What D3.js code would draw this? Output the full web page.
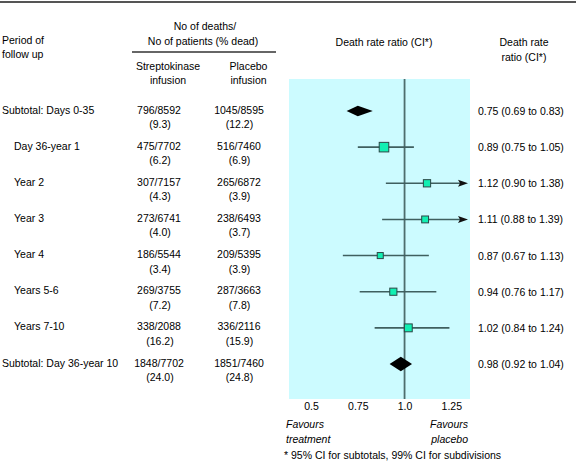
<!DOCTYPE html>
<html><head><meta charset="utf-8">
<script src="https://cdn.jsdelivr.net/npm/d3@7"></script>
<style>
body{margin:0;background:#fff;}
text{font-family:"Liberation Sans",Arial,sans-serif;font-size:10.5px;fill:#000;}
</style></head>
<body><svg id="c" width="576" height="468"></svg>
<script>
const periods = ["Subtotal: Days 0-35","Day 36-year 1","Year 2","Year 3","Year 4","Years 5-6","Years 7-10","Subtotal: Day 36-year 10"];
const isSubtotal = [true,false,false,false,false,false,false,true];
const strepDeaths = [796,475,307,273,186,269,338,1848];
const strepPatients = [8592,7702,7157,6741,5544,3755,2088,7702];
const strepPct = ["9.3","6.2","4.3","4.0","3.4","7.2","16.2","24.0"];
const placeboDeaths = [1045,516,265,238,209,287,336,1851];
const placeboPatients = [8595,7460,6872,6493,5395,3663,2116,7460];
const placeboPct = ["12.2","6.9","3.9","3.7","3.9","7.8","15.9","24.8"];
const ratio = [0.75,0.89,1.12,1.11,0.87,0.94,1.02,0.98];
const ciLow = [0.69,0.75,0.90,0.88,0.67,0.76,0.84,0.92];
const ciHigh = [0.83,1.05,1.38,1.39,1.13,1.17,1.24,1.04];
const tickValues = [0.5,0.75,1.0,1.25];
const tickLabels = ["0.5","0.75","1.0","1.25"];

const svg = d3.select("#c");
const x = d3.scaleLinear().domain([0.382,1.35]).range([289,470]);
const y = d3.scalePoint().domain(periods).range([111,364]);
const sq = d3.scaleSqrt().domain([0,1000]).range([0,9.6]);
const dh = d3.scaleSqrt().domain([0,1841]).range([0,5.2]);
const lineCol = "#3f5f5f";

// top rule
svg.append("line").attr("x1",0).attr("x2",576).attr("y1",2).attr("y2",2).attr("stroke","#555").attr("stroke-width",2);

// headers
const hdr = (t,xx,yy,anchor="middle")=>svg.append("text").attr("x",xx).attr("y",yy).attr("text-anchor",anchor).attr("dominant-baseline","central").text(t);
hdr("Period of",2,39.5,"start");
hdr("follow up",2,53.5,"start");
hdr("No of deaths/",205,26);
hdr("No of patients (% dead)",203,41);
svg.append("line").attr("x1",132).attr("x2",276).attr("y1",52).attr("y2",52).attr("stroke","#333").attr("stroke-width",1.5);
hdr("Streptokinase",168,66);
hdr("infusion",168,80);
hdr("Placebo",248.5,66);
hdr("infusion",248.5,80);
hdr("Death rate ratio (CI*)",384,42);
hdr("Death rate",524,42);
hdr("ratio (CI*)",524,57);

// plot background
svg.append("rect").attr("x",x.range()[0]).attr("y",79).attr("width",x.range()[1]-x.range()[0]).attr("height",320).attr("fill","#ccfbff");
svg.append("line").attr("x1",x(1)).attr("x2",x(1)).attr("y1",79).attr("y2",399).attr("stroke","#4e6d6d").attr("stroke-width",1.8);

// axis
const axis = d3.axisBottom(x).tickValues(tickValues).tickFormat((d,i)=>tickLabels[i]).tickSize(0).tickPadding(0);
const ax = svg.append("g").attr("transform","translate(0,403)").call(axis);
ax.select(".domain").remove();
ax.selectAll("text").attr("font-size","10.5px").attr("font-family","Liberation Sans, Arial, sans-serif").attr("fill","#000");
svg.append("text").attr("x",286).attr("y",424).attr("dominant-baseline","central").attr("font-style","italic").text("Favours");
svg.append("text").attr("x",286).attr("y",438.5).attr("dominant-baseline","central").attr("font-style","italic").text("treatment");
svg.append("text").attr("x",468).attr("y",424).attr("text-anchor","end").attr("dominant-baseline","central").attr("font-style","italic").text("Favours");
svg.append("text").attr("x",468).attr("y",438.5).attr("text-anchor","end").attr("dominant-baseline","central").attr("font-style","italic").text("placebo");
svg.append("text").attr("x",284).attr("y",455).attr("dominant-baseline","central").text("* 95% CI for subtotals, 99% CI for subdivisions");

// rows
const idx = d3.range(periods.length);
const rows = svg.selectAll("g.row").data(idx).join("g").attr("class","row");
rows.append("text").attr("x",i=>isSubtotal[i]?2:14).attr("y",i=>y(periods[i])-1.5).attr("dominant-baseline","central").text(i=>periods[i]);
rows.append("text").attr("x",159).attr("y",i=>y(periods[i])-1.5).attr("text-anchor","middle").attr("dominant-baseline","central").text(i=>strepDeaths[i]+"/"+strepPatients[i]);
rows.append("text").attr("x",160).attr("y",i=>y(periods[i])+13).attr("text-anchor","middle").attr("dominant-baseline","central").text(i=>"("+strepPct[i]+")");
rows.append("text").attr("x",239).attr("y",i=>y(periods[i])-1.5).attr("text-anchor","middle").attr("dominant-baseline","central").text(i=>placeboDeaths[i]+"/"+placeboPatients[i]);
rows.append("text").attr("x",239.5).attr("y",i=>y(periods[i])+13).attr("text-anchor","middle").attr("dominant-baseline","central").text(i=>"("+placeboPct[i]+")");
rows.append("text").attr("x",478).attr("y",i=>y(periods[i])).attr("dominant-baseline","central")
  .text(i=>d3.format(".2f")(ratio[i])+" ("+d3.format(".2f")(ciLow[i])+" to "+d3.format(".2f")(ciHigh[i])+")");

const xMax = x.domain()[1];
const arrowTip = x.range()[1]-2;
// CI lines for subdivisions
idx.filter(i=>!isSubtotal[i]).forEach(i=>{
  const yy = y(periods[i]);
  const over = ciHigh[i] > xMax;
  const x2 = over ? arrowTip-8 : x(ciHigh[i]);
  svg.append("line").attr("x1",x(ciLow[i])).attr("x2",x2).attr("y1",yy).attr("y2",yy).attr("stroke",lineCol).attr("stroke-width",1.6);
  if(over){
    svg.append("path").attr("d",`M${arrowTip-10},${yy-3.5}L${arrowTip},${yy}L${arrowTip-10},${yy+3.5}L${arrowTip-8},${yy}Z`).attr("fill","#111");
  }
  const s = sq(strepDeaths[i]+placeboDeaths[i]);
  svg.append("rect").attr("x",x(ratio[i])-s/2).attr("y",yy-s/2).attr("width",s).attr("height",s)
    .attr("fill","#12efb2").attr("stroke","#2b4646").attr("stroke-width",1);
});
// diamonds for subtotals
idx.filter(i=>isSubtotal[i]).forEach(i=>{
  const yy = y(periods[i]);
  const h = dh(strepDeaths[i]+placeboDeaths[i]);
  svg.append("path").attr("d",`M${x(ciLow[i])},${yy}L${x(ratio[i])},${yy-h}L${x(ciHigh[i])},${yy}L${x(ratio[i])},${yy+h}Z`).attr("fill","#000");
});
</script></body></html>
